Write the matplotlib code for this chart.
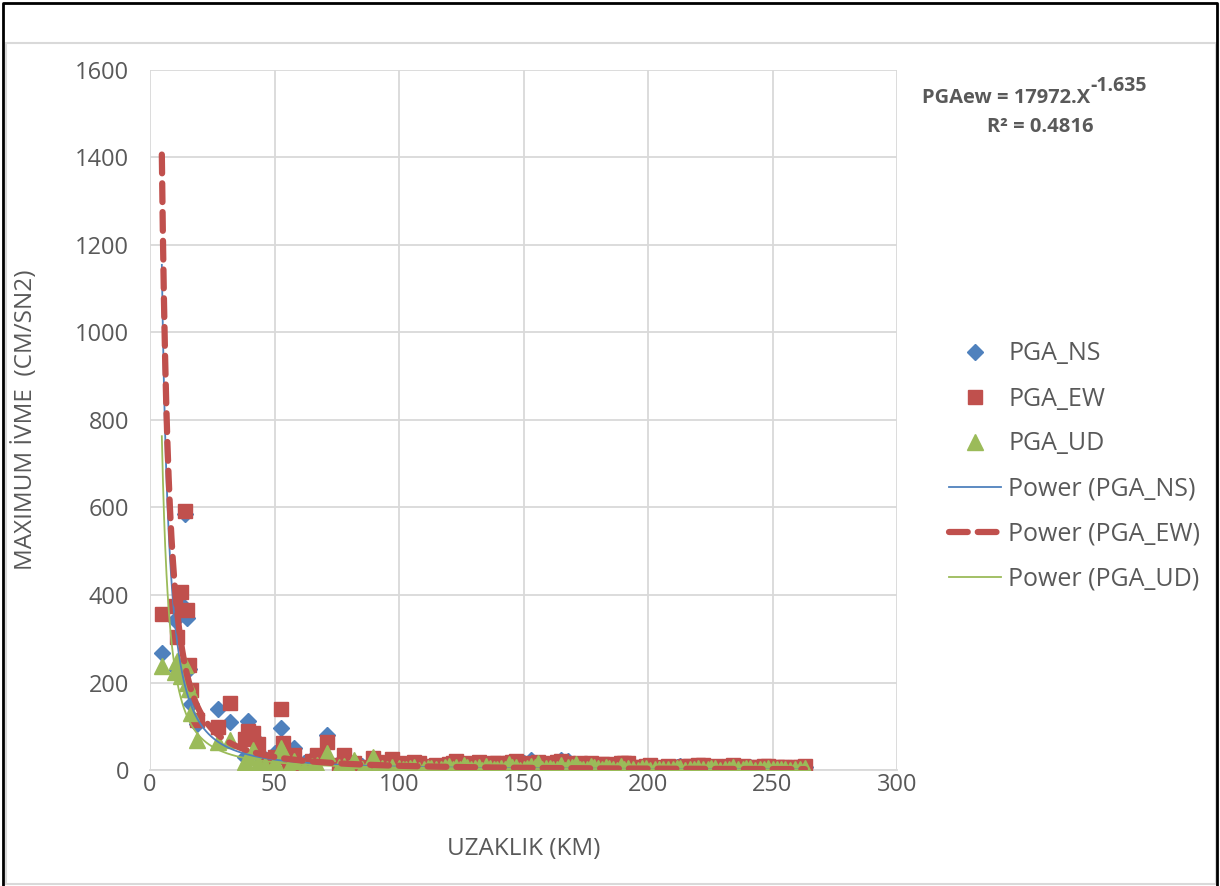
import numpy as np
import matplotlib
matplotlib.use("Agg")
import matplotlib.pyplot as plt
import matplotlib.lines as mlines
from matplotlib.patches import Rectangle

plt.rcParams["font.family"] = ["Open Sans", "DejaVu Sans"]

# station distances (km) and peak accelerations (cm/s2)
dist = [4.8, 10.0, 11.0, 12.4, 14.1, 14.8, 15.5, 16.3, 18.9, 27.4, 32.0, 38.0, 39.4,
        41.4, 43.4, 46.0, 50.0, 52.5, 53.5, 56.0, 58.0, 62.0, 65.0, 67.0, 71.0,
        76.0, 78.0, 82.0, 85.0, 89.5, 93.0, 97.0, 100.0, 103, 106, 110, 113, 117,
        120, 123, 126, 129, 132, 135, 138, 141, 144, 147, 150, 153, 156, 159, 162,
        165, 168, 171, 174, 177, 180, 183, 186, 189, 192, 196, 199, 203, 206, 210,
        213, 217, 220, 224, 227, 231, 234, 238, 241, 245, 248, 252, 255, 259, 263]
pga_ns = [267, 343, 228, 380, 585, 347, 230, 150, 105, 139, 110, 30, 112,
          75, 35, 25, 40, 96, 30, 20, 50, 15, 25, 30, 80,
          15, 25, 18, 10, 20, 12, 20, 8, 6, 10, 4, 7, 5,
          9, 12, 8, 5, 14, 6, 4, 9, 11, 7, 15, 22, 8, 5, 12,
          23, 20, 10, 6, 9, 7, 10, 5, 12, 6, 4, 8, 5, 7, 4,
          9, 6, 8, 5, 4, 6, 10, 5, 7, 4, 6, 3, 5, 4, 6]
pga_ew = [357, 375, 304, 407, 591, 366, 240, 183, 114, 98, 153, 70, 89,
          85, 59, 23, 30, 139, 62, 15, 34, 10, 20, 34, 64,
          12, 34, 15, 6, 27, 10, 25, 15, 12, 18, 8, 10, 6,
          14, 20, 16, 10, 18, 12, 15, 8, 17, 20, 16, 14, 18, 11, 9,
          20, 17, 13, 8, 15, 12, 14, 11, 17, 15, 8, 10, 6, 5, 8,
          6, 10, 12, 7, 9, 6, 11, 9, 8, 7, 10, 6, 8, 7, 9]
pga_ud = [238, 225, 250, 215, 240, 200, 185, 130, 69, 64, 69, 18, 30,
          46, 15, 12, 18, 50, 40, 8, 20, 5, 10, 12, 39,
          6, 10, 23, 3, 30, 5, 8, 4, 3, 8, 2, 5, 3,
          10, 6, 12, 3, 6, 9, 2, 4, 13, 7, 3, 10, 15, 4, 2,
          12, 6, 14, 3, 9, 4, 7, 2, 10, 5, 1, 5, 2, 3, 2,
          4, 3, 5, 2, 4, 3, 6, 2, 5, 2, 4, 2, 3, 2, 4]

# further far-field stations filling the dense band
dist_b = [80, 87, 91, 95, 101.5, 104.5, 108, 111.5, 115, 118.5, 121.5, 124.5, 127.5,
          130.5, 133.5, 136.5, 139.5, 142.5, 145.5, 148.5, 151.5, 154.5, 157.5,
          160.5, 163.5, 166.5, 169.5, 172.5, 175.5, 178.5, 181.5, 184.5, 187.5,
          190.5, 194, 197.5, 201, 204.5, 208, 211.5, 215, 218.5, 222, 225.5, 229,
          232.5, 236, 239.5, 243, 246.5, 250, 253.5, 257, 261]
ns_b = [8, 5, 9, 4, 5, 7, 3, 6, 4, 8, 10, 5, 7, 4, 9, 6, 5, 8, 4, 10, 6, 12, 5,
        7, 9, 14, 6, 4, 8, 5, 6, 4, 7, 5, 3, 6, 4, 5, 3, 6, 4, 5, 3, 4, 6,
        3, 5, 4, 3, 5, 3, 4, 3, 4]
ew_b = [14, 4, 18, 10, 6, 3, 15, 5, 12, 4, 16, 9, 3, 13, 5, 10, 16, 4, 18, 6, 13,
        3, 17, 5, 19, 10, 4, 15, 7, 3, 13, 9, 4, 15, 7, 3, 11, 4, 9, 3, 10, 4, 12,
        6, 3, 10, 4, 8, 3, 10, 4, 8, 3, 7]
ud_b = [4, 2, 6, 3, 2, 5, 1, 4, 2, 6, 3, 2, 8, 4, 1, 5, 3, 2, 6, 1, 4, 8, 2,
        5, 3, 1, 7, 3, 2, 6, 2, 4, 1, 3, 2, 4, 1, 3, 2, 4, 1, 3, 2, 4, 1,
        3, 2, 4, 1, 3, 2, 3, 1, 2]

# power trendline coefficients y = a * x^b
fit_ns = (15100, -1.65)
fit_ew = (17972, -1.635)
fit_ud = (9230, -1.60)

c_ns, c_ew, c_ud = "#4F81BD", "#C0504D", "#9BBB59"
txt = "#595959"

x_all = dist + dist_b
ns_all = pga_ns + ns_b
ew_all = pga_ew + ew_b
ud_all = pga_ud + ud_b

fig = plt.figure(figsize=(12.2, 8.86), dpi=100)
ax = fig.add_axes([150/1220, 1-770/886, 747/1220, 700/886])

ax.plot(x_all, ns_all, "D", color=c_ns, markersize=8.5, zorder=3)
ax.plot(x_all, ew_all, "s", color=c_ew, markersize=10.5, zorder=4)
ax.plot(x_all, ud_all, "^", color=c_ud, markersize=11, zorder=5)

xs = np.geomspace(min(x_all) - 0.05, max(x_all), 400)
ax.plot(xs, fit_ns[0]*xs**fit_ns[1], color=c_ns, lw=1.3, zorder=6)
ax.plot(xs, fit_ew[0]*xs**fit_ew[1], color=c_ew, lw=4.5, zorder=7,
        linestyle=(0, (3, 1.6)), dash_capstyle="round")
ax.plot(xs, fit_ud[0]*xs**fit_ud[1], color=c_ud, lw=1.3, zorder=6)

ax.set_xlim(0, 300)
ax.set_ylim(0, 1600)
ax.set_xticks(range(0, 301, 50))
ax.set_yticks(range(0, 1601, 200))
ax.grid(True, color="#D9D9D9", lw=1.3)
ax.set_axisbelow(True)
for s in ["top", "right", "left"]:
    ax.spines[s].set_visible(False)
ax.spines["bottom"].set_color("#D9D9D9")
ax.spines["bottom"].set_linewidth(1.3)
ax.tick_params(length=0, labelsize=17, labelcolor=txt)
ax.tick_params(axis="y", pad=15)
ax.tick_params(axis="x", pad=2)
ax.set_xlabel("UZAKLIK (KM)", fontsize=17.5, color=txt, labelpad=29)
ax.set_ylabel("MAXIMUM İVME  (CM/SN2)", fontsize=17.5, color=txt, labelpad=27)

handles = [
    mlines.Line2D([], [], color=c_ns, marker="D", ls="", markersize=8.5, label="PGA_NS"),
    mlines.Line2D([], [], color=c_ew, marker="s", ls="", markersize=10.5, label="PGA_EW"),
    mlines.Line2D([], [], color=c_ud, marker="^", ls="", markersize=11, label="PGA_UD"),
    mlines.Line2D([], [], color=c_ns, lw=1.3, label="Power (PGA_NS)"),
    mlines.Line2D([], [], color=c_ew, lw=4.5, ls=(0, (3, 1.6)),
                  dash_capstyle="round", label="Power (PGA_EW)"),
    mlines.Line2D([], [], color=c_ud, lw=1.3, label="Power (PGA_UD)"),
]
fig.legend(handles=handles, loc="upper left", bbox_to_anchor=(926/1220, 1-319/886),
           frameon=False, fontsize=18, labelspacing=0.8, handlelength=2.1,
           handletextpad=0.3, labelcolor=txt)

# trendline equation (EW) with superscript exponent
fig.text(1090/1220, 1-98/886, "PGAew = 17972.X", fontsize=14.5,
         fontweight="bold", color=txt, ha="right", va="center")
fig.text(1090/1220, 1-86/886, "-1.635", fontsize=14,
         fontweight="bold", color=txt, ha="left", va="center")
fig.text(1040/1220, 1-127/886, "R² = 0.4816", fontsize=14.5,
         fontweight="bold", color=txt, ha="center", va="center")

# outer frame (black) and chart-area border (grey)
fig.add_artist(mlines.Line2D([3/1220, 3/1220, 1217/1220, 1217/1220],
                             [0, 1-3/886, 1-3/886, 0], color="black", lw=2,
                             transform=fig.transFigure))
fig.add_artist(Rectangle((6/1220, 1-884/886), 1210/1220, 841/886, fill=False,
                         edgecolor="#D9D9D9", lw=1.5, transform=fig.transFigure))

fig.savefig("out.png", dpi=100)
